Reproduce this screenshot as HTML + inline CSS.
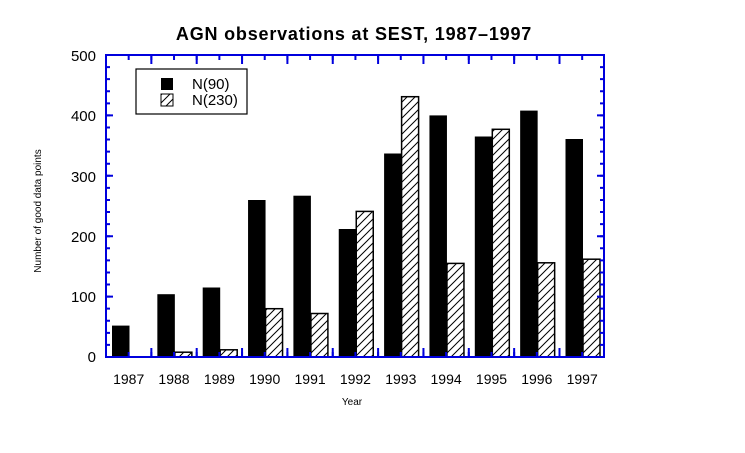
<!DOCTYPE html><html><head><style>body{margin:0;background:#fff}svg{display:block}text{font-family:"Liberation Sans",sans-serif}</style></head><body>
<svg width="745" height="453" xmlns="http://www.w3.org/2000/svg">
<defs><pattern id="h" width="8" height="8" patternUnits="userSpaceOnUse"><rect width="8" height="8" fill="#fff"/><path d="M-2,10 L10,-2 M-2,2 L2,-2 M6,10 L10,6" stroke="#000" stroke-width="1"/></pattern></defs>
<text x="354" y="40" font-size="18" font-weight="bold" letter-spacing="0.8" text-anchor="middle">AGN observations at SEST, 1987–1997</text>
<g fill="#000">
<rect x="112" y="325.6" width="17.5" height="31.4"/>
<rect x="157.35" y="294.2" width="17.5" height="62.8"/>
<rect x="202.7" y="287.5" width="17.5" height="69.5"/>
<rect x="248.05" y="200" width="17.5" height="157"/>
<rect x="293.4" y="195.7" width="17.5" height="161.3"/>
<rect x="338.75" y="229" width="17.5" height="128"/>
<rect x="384.1" y="153.5" width="17.5" height="203.5"/>
<rect x="429.45" y="115.4" width="17.5" height="241.6"/>
<rect x="474.8" y="136.5" width="17.5" height="220.5"/>
<rect x="520.15" y="110.6" width="17.5" height="246.4"/>
<rect x="565.5" y="139" width="17.5" height="218"/>
</g>
<g fill="url(#h)" stroke="#000" stroke-width="1.5">
<rect x="174.85" y="352.2" width="17" height="4.8"/>
<rect x="220.2" y="349.8" width="17" height="7.2"/>
<rect x="265.55" y="308.7" width="17" height="48.3"/>
<rect x="310.9" y="313.5" width="17" height="43.5"/>
<rect x="356.25" y="211.4" width="17" height="145.6"/>
<rect x="401.6" y="96.7" width="17" height="260.3"/>
<rect x="446.95" y="263.4" width="17" height="93.6"/>
<rect x="492.3" y="129.3" width="17" height="227.7"/>
<rect x="537.65" y="262.8" width="17" height="94.2"/>
<rect x="583" y="259.2" width="17" height="97.8"/>
</g>
<g stroke="#0000dd" fill="none">
<rect x="106" y="55" width="498" height="302" stroke-width="2"/>
<line x1="108" y1="358" x2="108" y2="54" stroke-width="4" stroke-dasharray="2 10.08"/>
<line x1="109.5" y1="358" x2="109.5" y2="54" stroke-width="7" stroke-dasharray="2 58.4"/>
<line x1="602" y1="358" x2="602" y2="54" stroke-width="4" stroke-dasharray="2 10.08"/>
<line x1="600.5" y1="358" x2="600.5" y2="54" stroke-width="7" stroke-dasharray="2 58.4"/>
<line x1="105" y1="57.5" x2="605" y2="57.5" stroke-width="5" stroke-dasharray="2 20.675"/>
<line x1="105" y1="59.5" x2="605" y2="59.5" stroke-width="9" stroke-dasharray="2 43.35"/>
<line x1="105" y1="354.5" x2="605" y2="354.5" stroke-width="5" stroke-dasharray="2 20.675"/>
<line x1="105" y1="352.5" x2="605" y2="352.5" stroke-width="9" stroke-dasharray="2 43.35"/>
</g>
<g font-size="14" text-anchor="middle">
<text x="128.7" y="384">1987</text><text x="174" y="384">1988</text><text x="219.4" y="384">1989</text><text x="264.7" y="384">1990</text><text x="310.1" y="384">1991</text><text x="355.4" y="384">1992</text><text x="400.8" y="384">1993</text><text x="446.1" y="384">1994</text><text x="491.5" y="384">1995</text><text x="536.8" y="384">1996</text><text x="582.2" y="384">1997</text>
</g>
<g font-size="15" text-anchor="end"><text x="96" y="61">500</text><text x="96" y="121">400</text><text x="96" y="182">300</text><text x="96" y="242">200</text><text x="96" y="302">100</text><text x="96" y="362">0</text></g>
<rect x="136" y="69" width="111" height="45" fill="#fff" stroke="#000" stroke-width="1.2"/>
<rect x="161" y="78" width="12" height="12" fill="#000"/>
<rect x="161" y="94" width="12" height="12" fill="url(#h)" stroke="#000"/>
<text x="192" y="89" font-size="15">N(90)</text><text x="192" y="105" font-size="15">N(230)</text>
<text x="352" y="405" font-size="10" text-anchor="middle">Year</text>
<text transform="translate(41,211) rotate(-90)" font-size="10" text-anchor="middle">Number of good data points</text>
</svg></body></html>
